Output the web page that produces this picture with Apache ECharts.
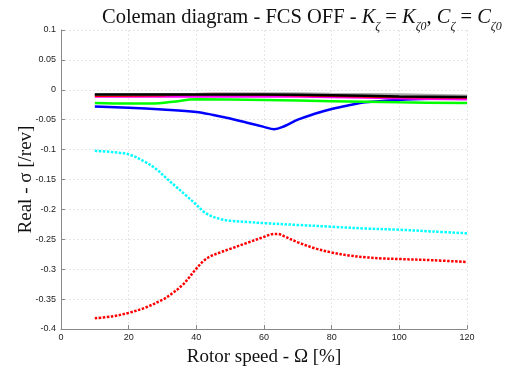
<!DOCTYPE html>
<html>
<head>
<meta charset="utf-8">
<script src="https://cdn.jsdelivr.net/npm/echarts@6/dist/echarts.min.js"></script>
<style>html,body{margin:0;padding:0;background:#fff}#c{width:508px;height:372px}</style>
</head>
<body>
<div id="c"></div>
<script>
// ---- data ----
var xTicks = [0, 20, 40, 60, 80, 100, 120];
var yTicks = [0.1, 0.05, 0, -0.05, -0.1, -0.15, -0.2, -0.25, -0.3, -0.35, -0.4];

var redDotX = [10, 15, 20, 25, 30, 33, 36, 38, 40, 42, 44, 47, 50, 55, 60, 63, 64, 66, 70, 75, 80, 85, 90, 95, 100, 110, 120];
var redDotY = [-0.382, -0.379, -0.373, -0.364, -0.351, -0.340, -0.326, -0.313, -0.299, -0.287, -0.279, -0.272, -0.266, -0.256, -0.246, -0.241, -0.241, -0.245, -0.255, -0.265, -0.272, -0.277, -0.280, -0.282, -0.283, -0.285, -0.288];

var cyanDotX = [10, 15, 20, 25, 28, 31, 34, 37, 40, 42, 44, 47, 50, 55, 60, 70, 80, 90, 100, 110, 120];
var cyanDotY = [-0.102, -0.104, -0.108, -0.121, -0.132, -0.147, -0.162, -0.177, -0.192, -0.203, -0.210, -0.216, -0.219, -0.221, -0.223, -0.226, -0.229, -0.232, -0.234, -0.237, -0.240];

var blueX = [10, 20, 30, 40, 45, 50, 55, 60, 63, 66, 70, 75, 80, 85, 90, 100, 110, 120];
var blueY = [-0.028, -0.030, -0.033, -0.037, -0.042, -0.048, -0.055, -0.062, -0.066, -0.061, -0.050, -0.040, -0.032, -0.026, -0.021, -0.017, -0.015, -0.014];

var greenX = [10, 20, 27, 33, 40, 60, 80, 100, 120];
var greenY = [-0.022, -0.023, -0.023, -0.020, -0.016, -0.017, -0.019, -0.021, -0.022];

var magentaX = [10, 40, 60, 80, 100, 120];
var magentaY = [-0.011, -0.011, -0.011, -0.012, -0.014, -0.016];

var redX = [10, 30, 45, 60, 80, 100, 120];
var redY = [-0.010, -0.009, -0.007, -0.008, -0.010, -0.012, -0.013];

var grayX = [10, 40, 60, 80, 100, 120];
var grayY = [-0.008, -0.007, -0.006, -0.007, -0.008, -0.010];

var blackX = [10, 40, 60, 80, 100, 120];
var blackY = [-0.008, -0.008, -0.008, -0.009, -0.011, -0.012];

function pairs(xs, ys) { return xs.map(function (x, i) { return [x, ys[i]]; }); }

var chart = echarts.init(document.getElementById('c'), null, {renderer: 'canvas'});
var serif = '"Liberation Serif", "DejaVu Serif", serif';
var sans = '"Liberation Sans", Arial, sans-serif';

function solid(name, xs, ys, color, z) {
  return {name: name, type: 'line', data: pairs(xs, ys), showSymbol: false, smooth: 0.35,
    lineStyle: {color: color, width: 2.5}, z: z, silent: true};
}
function dotted(name, xs, ys, color, z) {
  return {name: name, type: 'line', data: pairs(xs, ys), showSymbol: false, smooth: 0.35,
    lineStyle: {color: color, width: 2.5, type: [2.5, 1.5]}, z: z, silent: true};
}

chart.setOption({
  animation: false,
  backgroundColor: '#fff',
  title: {
    text: '{n|Coleman diagram - FCS OFF - }{i|K}{s|ζ}{n| = }{i|K}{s|ζ0}{n|, }{i|C}{s|ζ}{n| = }{i|C}{s|ζ0}',
    left: 97, top: 1,
    textStyle: {
      fontWeight: 'normal',
      rich: {
        n: {fontFamily: serif, fontSize: 20.5, fontWeight: 'normal', color: '#111', lineHeight: 24, verticalAlign: 'middle'},
        i: {fontFamily: serif, fontSize: 20.5, fontWeight: 'normal', fontStyle: 'italic', color: '#111', lineHeight: 24, verticalAlign: 'middle'},
        s: {fontFamily: serif, fontSize: 12, fontWeight: 'normal', fontStyle: 'italic', color: '#111', lineHeight: 12, verticalAlign: 'bottom', padding: [0, 0, -3, 0]}
      }
    }
  },
  grid: {left: 61, right: 41, top: 30, bottom: 38},
  xAxis: {
    type: 'value', min: 0, max: 120, interval: 20,
    name: 'Rotor speed - Ω [%]', nameLocation: 'middle', nameGap: 19,
    nameMoveOverlap: false,
    nameTextStyle: {fontFamily: serif, fontSize: 19, color: '#111'},
    axisLine: {onZero: false, lineStyle: {color: '#888', width: 1}},
    axisTick: {inside: true, length: 4, lineStyle: {color: '#888'}},
    axisLabel: {fontFamily: sans, fontSize: 9, color: '#222', margin: 4,
      formatter: function (v) { return xTicks.indexOf(v) >= 0 ? String(v) : ''; }},
    splitLine: {show: true, lineStyle: {color: '#e6e6e6', type: [2, 2], width: 1}}
  },
  yAxis: {
    type: 'value', min: -0.4, max: 0.1, interval: 0.05,
    name: 'Real - σ [/rev]', nameLocation: 'middle', nameGap: 25,
    nameMoveOverlap: false,
    nameTextStyle: {fontFamily: serif, fontSize: 19, color: '#111'},
    axisLine: {show: true, lineStyle: {color: '#888', width: 1}},
    axisTick: {show: true, inside: true, length: 4, lineStyle: {color: '#888'}},
    axisLabel: {fontFamily: sans, fontSize: 9, color: '#222', margin: 5,
      formatter: function (v) {
        var r = Math.round(v * 100) / 100;
        for (var k = 0; k < yTicks.length; k++) { if (Math.abs(yTicks[k] - r) < 1e-9) return String(yTicks[k]); }
        return '';
      }},
    splitLine: {show: true, lineStyle: {color: '#e6e6e6', type: [2, 2], width: 1}}
  },
  series: [
    dotted('cyan', cyanDotX, cyanDotY, '#00ffff', 2),
    dotted('redDot', redDotX, redDotY, '#ff0000', 2),
    solid('blue', blueX, blueY, '#0000ff', 3),
    solid('green', greenX, greenY, '#00ff00', 4),
    solid('magenta', magentaX, magentaY, '#ff00ff', 5),
    solid('red', redX, redY, '#ff0000', 6),
    solid('gray', grayX, grayY, '#aaaaaa', 6),
    solid('black', blackX, blackY, '#000000', 7)
  ]
});
</script>
</body>
</html>
